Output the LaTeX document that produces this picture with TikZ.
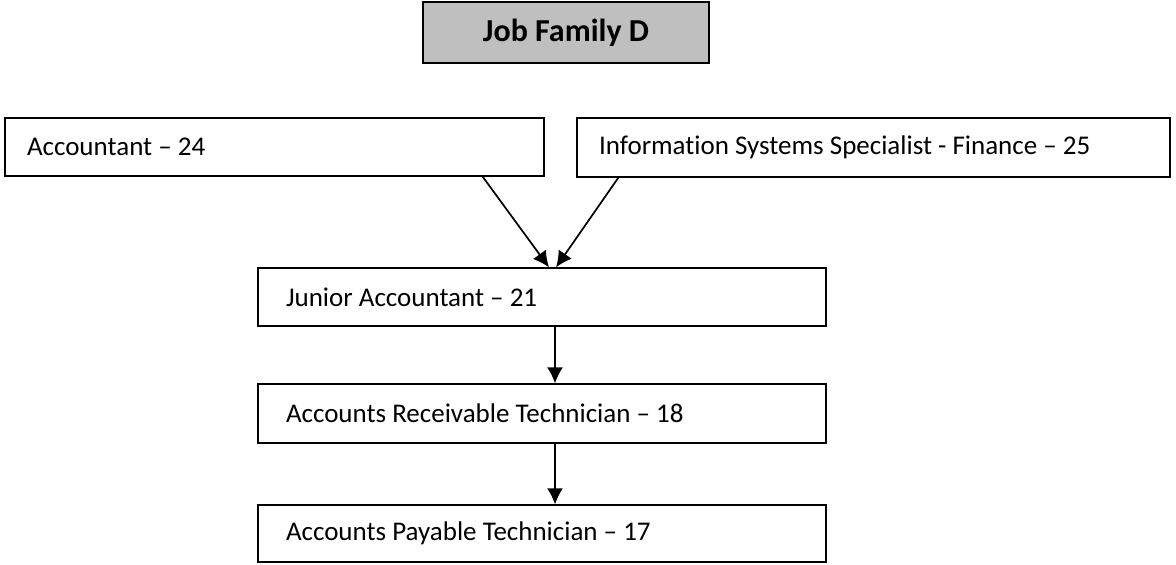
\documentclass[tikz,border=0pt]{standalone}
\usepackage{fontspec}
\setmainfont{Carlito}[Ligatures=NoCommon]
\usetikzlibrary{arrows.meta,calc}

\tikzset{
	jobbox/.style={draw=black,line width=0.65pt,rectangle,inner xsep=11pt,font=\fontsize{13.5}{16}\selectfont,
		execute at begin node={\spaceskip=0pt\relax\xspaceskip=0pt\relax\parfillskip=0pt plus 1fil\relax}},
	jobarrow/.style={-{Latex[length=8pt,width=8pt]},line width=0.85pt}
}

\begin{document}
\begin{tikzpicture}[x=0.5pt,y=-0.5pt]
		\useasboundingbox (0,0) rectangle (1176,564);

		\node[draw=black,line width=1pt,fill=black!25,minimum width=143pt,minimum height=30.5pt,font=\fontsize{16}{19}\selectfont\bfseries] (family) at (566,32.5) {Job Family D};

		\node[jobbox,text width=247.5pt,minimum height=29pt] (acct) at (274.5,147) {Accountant -- 24};
		\node[jobbox,text width=274.5pt,minimum height=29.5pt] (infosys) at (873.5,147.5) {Information Systems Specialist - Finance -- 25};
		\node[jobbox,text width=256pt,minimum height=29pt,inner xsep=14pt] (junior) at (542,297) {Junior Accountant -- 21};
		\node[jobbox,text width=256pt,minimum height=29.5pt,inner xsep=14pt] (receivable) at (542,413.5) {Accounts Receivable Technician -- 18};
		\node[jobbox,text width=256pt,minimum height=28.5pt,inner xsep=14pt] (payable) at (542,533.5) {Accounts Payable Technician -- 17};

		\draw[jobarrow] ($(acct.south east)+(-62,0)$) -- ($(junior.north)+(7,0)$);
		\draw[jobarrow] ($(infosys.south west)+(42,0)$) -- ($(junior.north)+(14,0)$);
		\draw[jobarrow] ($(junior.south)+(13,0)$) -- ($(receivable.north)+(13,0)$);
		\draw[jobarrow] ($(receivable.south)+(13,0)$) -- ($(payable.north)+(13,0)$);

\end{tikzpicture}
\end{document}
